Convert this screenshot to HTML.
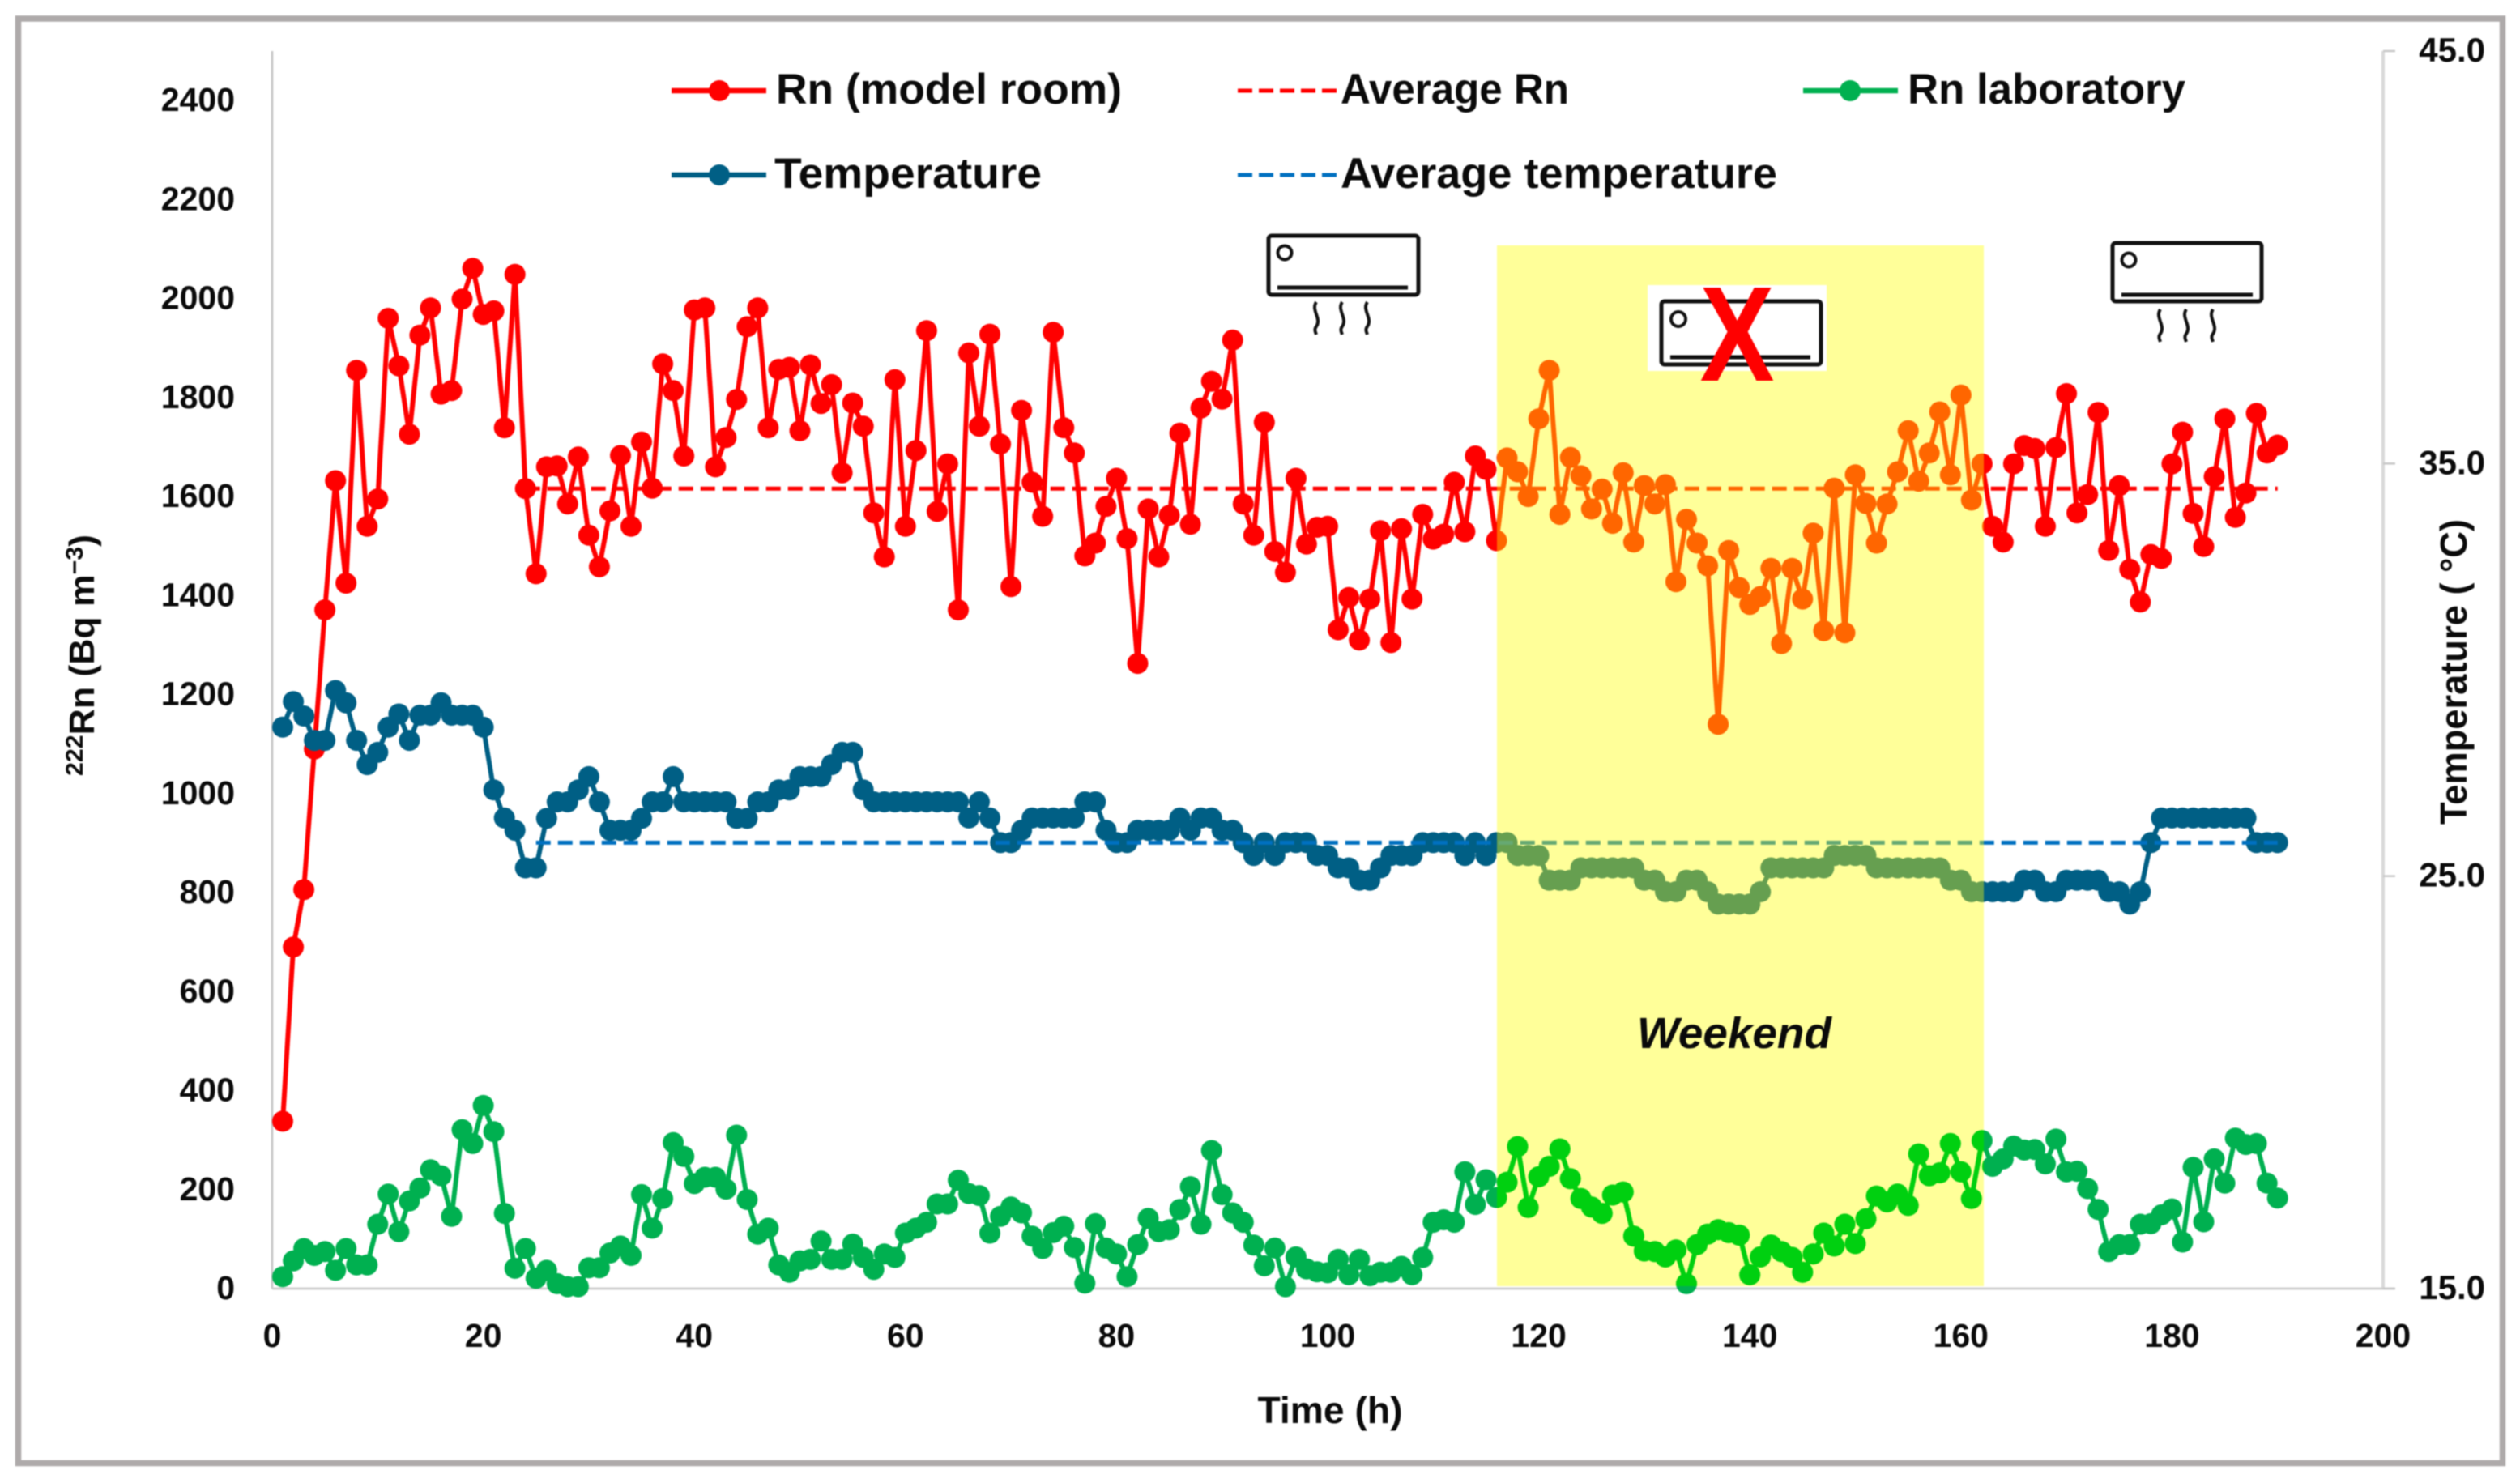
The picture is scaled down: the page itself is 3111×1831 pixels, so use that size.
<!DOCTYPE html>
<html lang="en">
<head>
<meta charset="utf-8">
<title>Radon and temperature time series</title>
<style>
html,body{margin:0;padding:0;background:#fff;}
#chart{display:block;width:3111px;height:1831px;filter:blur(0.9px);}
text{font-family:"Liberation Sans",sans-serif;fill:#0a0a0a;}
.tick{font-size:41px;font-weight:bold;}
.legend{font-size:53px;font-weight:bold;}
</style>
</head>
<body>
<svg id="chart" xmlns="http://www.w3.org/2000/svg" width="3111" height="1831" viewBox="0 0 3111 1831">
  <defs>
    <clipPath id="weekend-clip"><rect x="1848" y="303" width="601" height="1285"/></clipPath>
  </defs>
  <rect x="0" y="0" width="3111" height="1831" fill="#fff"/>
  <rect x="22.5" y="23" width="3067" height="1783.5" fill="#fff" stroke="#aeaaaa" stroke-width="7.5"/>
  <g id="axes"></g>
  <g id="series"></g>
  <rect x="1848" y="303" width="601" height="1285" fill="#ffff00" fill-opacity="0.4"/>
  <g id="weekend-lab" clip-path="url(#weekend-clip)"></g>

  <text x="2141" y="1294" text-anchor="middle" font-size="54" font-weight="bold" font-style="italic" textLength="240" lengthAdjust="spacingAndGlyphs">Weekend</text>

  <g fill="none" stroke="#111">
    <rect x="1566" y="291" width="185" height="73" rx="4" fill="#fff" stroke-width="5"/>
    <circle cx="1586" cy="312" r="8.5" stroke-width="4"/>
    <line x1="1577" y1="355" x2="1738" y2="355" stroke-width="5"/>
    <path d="M1625 373c-7 10 7 20 0 30c-3 4-1 7 0 10M1657 373c-7 10 7 20 0 30c-3 4-1 7 0 10M1688 373c-7 10 7 20 0 30c-3 4-1 7 0 10" stroke-width="4"/>
  </g>
  <g fill="none" stroke="#111">
    <rect x="2608" y="300" width="184" height="72" rx="4" fill="#fff" stroke-width="5"/>
    <circle cx="2628" cy="321" r="8.5" stroke-width="4"/>
    <line x1="2619" y1="364" x2="2781" y2="364" stroke-width="5"/>
    <path d="M2667 382c-7 10 7 20 0 30c-3 4-1 7 0 10M2699 382c-7 10 7 20 0 30c-3 4-1 7 0 10M2732 382c-7 10 7 20 0 30c-3 4-1 7 0 10" stroke-width="4"/>
  </g>
  <g>
    <rect x="2034" y="352" width="221" height="106" fill="#fff"/>
    <rect x="2051" y="372" width="197" height="78" rx="4" fill="#fff" stroke="#111" stroke-width="5"/>
    <circle cx="2072" cy="394" r="9" fill="none" stroke="#111" stroke-width="4"/>
    <line x1="2062" y1="441" x2="2235" y2="441" stroke="#111" stroke-width="5"/>
    <text x="2144.5" y="470" text-anchor="middle" font-size="167" font-weight="bold" textLength="92" lengthAdjust="spacingAndGlyphs" style="fill:#ff0000">X</text>
  </g>

  <g>
    <g>
      <line x1="829" y1="112" x2="946" y2="112" stroke="#ff0000" stroke-width="6.5"/>
      <circle cx="888" cy="112" r="13" fill="#ff0000"/>
      <text class="legend" x="958" y="128" textLength="427" lengthAdjust="spacingAndGlyphs">Rn (model room)</text>
    </g>
    <g>
      <line x1="1528" y1="112" x2="1650" y2="112" stroke="#ff0000" stroke-width="5" stroke-dasharray="18 8"/>
      <text class="legend" x="1655" y="128" textLength="282" lengthAdjust="spacingAndGlyphs">Average Rn</text>
    </g>
    <g>
      <line x1="2226" y1="112" x2="2343" y2="112" stroke="#00b050" stroke-width="6.5"/>
      <circle cx="2284" cy="112" r="13" fill="#00b050"/>
      <text class="legend" x="2355" y="128" textLength="343" lengthAdjust="spacingAndGlyphs">Rn laboratory</text>
    </g>
    <g>
      <line x1="829" y1="216" x2="946" y2="216" stroke="#005f85" stroke-width="6.5"/>
      <circle cx="888" cy="216" r="13" fill="#005f85"/>
      <text class="legend" x="956" y="232" textLength="330" lengthAdjust="spacingAndGlyphs">Temperature</text>
    </g>
    <g>
      <line x1="1528" y1="216" x2="1650" y2="216" stroke="#0070c0" stroke-width="5" stroke-dasharray="18 8"/>
      <text class="legend" x="1655" y="232" textLength="539" lengthAdjust="spacingAndGlyphs">Average temperature</text>
    </g>
  </g>

  <text x="1642" y="1757" text-anchor="middle" font-size="46" font-weight="bold" textLength="179" lengthAdjust="spacingAndGlyphs">Time (h)</text>
  <text transform="translate(116 958) rotate(-90)" font-size="44" font-weight="bold" textLength="298" lengthAdjust="spacingAndGlyphs"><tspan font-size="30" dy="-14">222</tspan><tspan dy="14">Rn (Bq m</tspan><tspan font-size="30" dy="-14">−3</tspan><tspan dy="14">)</tspan></text>
  <text transform="translate(3045 1018) rotate(-90)" font-size="46" font-weight="bold" textLength="377" lengthAdjust="spacingAndGlyphs">Temperature ( °C)</text>
</svg>
<script>
const hours = [];
for (let h = 1; h <= 190; h++) hours.push(h);
const radon = [
338,690,806,1090,1371,1632,1425,1855,1540,1595,
1960,1864,1726,1926,1981,1807,1814,1999,2061,1968,
1975,1739,2049,1616,1444,1660,1662,1585,1680,1522,
1458,1571,1683,1540,1710,1617,1868,1814,1682,1977,
1981,1660,1719,1796,1943,1981,1739,1857,1861,1733,
1866,1788,1826,1648,1789,1742,1567,1478,1836,1540,
1693,1935,1570,1666,1371,1890,1742,1928,1706,1418,
1774,1629,1560,1932,1739,1688,1480,1506,1580,1637,
1515,1263,1575,1478,1562,1728,1544,1779,1833,1797,
1916,1585,1522,1750,1489,1447,1637,1504,1538,1540,
1331,1396,1310,1393,1531,1305,1535,1393,1564,1514,
1524,1629,1529,1682,1655,1511,1678,1650,1600,1757,
1855,1564,1679,1642,1575,1615,1546,1648,1508,1622,
1585,1624,1428,1554,1506,1460,1140,1491,1416,1382,
1398,1455,1303,1455,1393,1526,1329,1617,1325,1644,
1586,1506,1585,1650,1733,1631,1688,1771,1644,1805,
1593,1666,1540,1508,1666,1703,1697,1540,1699,1808,
1567,1604,1770,1491,1622,1453,1387,1483,1475,1666,
1730,1566,1499,1640,1757,1558,1607,1768,1688,1704];
const temperature = [
28.61,29.23,28.88,28.29,28.29,29.5,29.2,28.29,27.7,28.0,
28.61,28.93,28.29,28.9,28.9,29.2,28.9,28.9,28.9,28.61,
27.09,26.41,26.11,25.2,25.2,26.4,26.8,26.8,27.09,27.41,
26.8,26.11,26.11,26.11,26.4,26.8,26.8,27.41,26.8,26.8,
26.8,26.8,26.8,26.4,26.4,26.8,26.8,27.09,27.09,27.41,
27.41,27.41,27.7,28.0,28.0,27.09,26.8,26.8,26.8,26.8,
26.8,26.8,26.8,26.8,26.8,26.41,26.8,26.41,25.81,25.81,
26.11,26.41,26.41,26.41,26.41,26.41,26.8,26.8,26.11,25.81,
25.81,26.11,26.11,26.11,26.11,26.41,26.11,26.41,26.41,26.11,
26.11,25.81,25.5,25.81,25.5,25.81,25.81,25.81,25.5,25.5,
25.2,25.2,24.9,24.9,25.2,25.5,25.5,25.5,25.81,25.81,
25.81,25.81,25.5,25.81,25.5,25.81,25.81,25.5,25.5,25.5,
24.9,24.9,24.9,25.2,25.2,25.2,25.2,25.2,25.2,24.9,
24.9,24.62,24.62,24.9,24.9,24.62,24.32,24.32,24.32,24.32,
24.62,25.2,25.2,25.2,25.2,25.2,25.2,25.5,25.5,25.5,
25.5,25.2,25.2,25.2,25.2,25.2,25.2,25.2,24.9,24.9,
24.62,24.62,24.62,24.62,24.62,24.9,24.9,24.62,24.62,24.9,
24.9,24.9,24.9,24.62,24.62,24.32,24.62,25.81,26.41,26.41,
26.41,26.41,26.41,26.41,26.41,26.41,26.41,25.81,25.81,25.81];
const radonLab = [
24,56,81,67,75,37,81,48,48,130,
191,115,177,203,240,228,146,321,293,370,
317,152,41,81,21,37,10,4,4,42,
42,72,86,67,190,122,182,295,267,212,
225,225,201,310,180,110,122,48,33,56,
59,96,59,59,90,63,39,70,63,112,
122,134,171,171,219,192,188,112,146,165,
153,106,81,113,126,83,11,131,82,70,
24,89,142,115,119,160,206,130,279,190,
153,134,88,46,82,4,64,40,34,32,
59,28,59,26,33,33,45,28,63,134,
139,134,236,170,220,184,215,287,164,226,
247,282,222,182,165,152,189,195,106,76,
75,64,78,10,89,110,119,113,108,28,
64,88,75,63,33,70,112,86,130,91,
141,187,175,191,168,272,228,234,293,236,
182,299,247,262,288,280,281,252,302,236,
237,202,160,75,89,89,130,131,149,161,
94,245,135,262,213,304,291,293,213,183];
const averageRadon = 1616;
const averageTemperature = 25.81;
const averageStartRadon = 24;
const averageStartTemperature = 25;
const averageEnd = 190;
const xTicks = [0,20,40,60,80,100,120,140,160,180,200];
const yLeftTicks = [0,200,400,600,800,1000,1200,1400,1600,1800,2000,2200,2400];
const yRightTicks = [15,25,35,45];

const SVG_NS = 'http://www.w3.org/2000/svg';
const X0 = 336, X1 = 2942, Y0 = 1591, Y1 = 63;
function xScale(h){ return X0 + (X1 - X0) * h / 200; }
function yLeft(v){ return Y0 - (Y0 - Y1) * v / 2500; }
function yRight(t){ return Y0 - (Y0 - Y1) * (t - 15) / 30; }
function make(tag, props, parent){
  const el = document.createElementNS(SVG_NS, tag);
  for (const k in props) el.setAttribute(k, props[k]);
  parent.appendChild(el);
  return el;
}

const axes = document.getElementById('axes');
const leftAxis = make('line', {x1:X0, y1:Y1, x2:X0, y2:Y0, stroke:'#c4c4c4', 'stroke-width':2.5}, axes);


const rightAxis = make('line', {x1:X1, y1:Y1, x2:X1, y2:Y0, stroke:'#d9d9d9', 'stroke-width':4}, axes);


const bottomAxis = make('line', {x1:X0, y1:Y0, x2:X1 + 15, y2:Y0, stroke:'#cfcfcf', 'stroke-width':3}, axes);



xTicks.forEach(function(v){
  const t = make('text', {class:'tick', x:xScale(v), y:1663, 'text-anchor':'middle'}, axes);
  t.textContent = String(v);
  
  
});
yLeftTicks.forEach(function(v){
  const t = make('text', {class:'tick', x:290, y:yLeft(v) + 13, 'text-anchor':'end'}, axes);
  t.textContent = String(v);
  
  
});
yRightTicks.forEach(function(v){
  const tk = make('line', {x1:X1, y1:yRight(v), x2:X1 + 15, y2:yRight(v), stroke:'#c8c8c8', 'stroke-width':2.5}, axes);
  
  
  const t = make('text', {class:'tick', x:3068, y:yRight(v) + 13, 'text-anchor':'end', style:'font-size:42px'}, axes);
  t.textContent = v.toFixed(1);
  
  
});

function drawSeries(values, yFn, color, parent){
  const g = make('g', {}, parent);
  const pts = values.map(function(v, i){ return xScale(hours[i]).toFixed(1) + ',' + yFn(v).toFixed(1); }).join(' ');
  const line = make('polyline', {points:pts, fill:'none', stroke:color, 'stroke-width':6, 'stroke-linejoin':'round'}, g);
  
  
  values.forEach(function(v, i){
    const c = make('circle', {cx:xScale(hours[i]).toFixed(1), cy:yFn(v).toFixed(1), r:13, fill:color}, g);
    
    
  });
  return g;
}

const seriesLayer = document.getElementById('series');
const labGroup = drawSeries(radonLab, yLeft, '#00b050', seriesLayer);


const radonGroup = drawSeries(radon, yLeft, '#ff0000', seriesLayer);


const tempGroup = drawSeries(temperature, yRight, '#005f85', seriesLayer);



const avgRadonLine = make('line', {x1:xScale(averageStartRadon), y1:yLeft(averageRadon), x2:xScale(averageEnd), y2:yLeft(averageRadon), stroke:'#ff0000', 'stroke-width':5, 'stroke-dasharray':'18 9'}, seriesLayer);


const avgTempLine = make('line', {x1:xScale(averageStartTemperature), y1:yRight(averageTemperature), x2:xScale(averageEnd), y2:yRight(averageTemperature), stroke:'#0070c0', 'stroke-width':5, 'stroke-dasharray':'18 9'}, seriesLayer);



const weekendLayer = document.getElementById('weekend-lab');
const labTint = drawSeries(radonLab, yLeft, '#00d010', weekendLayer);


</script>
</body>
</html>
